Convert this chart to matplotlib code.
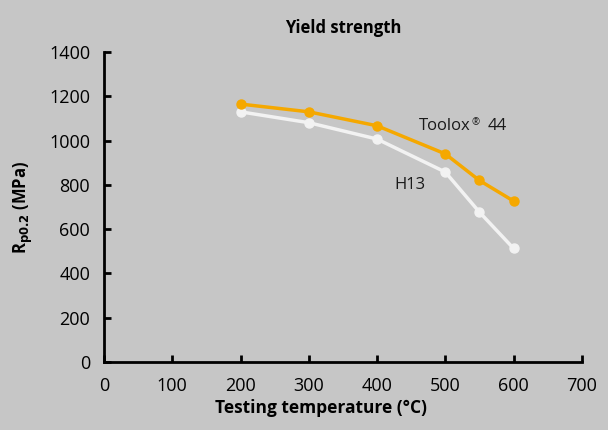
import matplotlib.pyplot as plt

temps = [200, 300, 400, 500, 550, 600]
toolox = [1165, 1130, 1067, 940, 820, 727]
h13 = [1130, 1081, 1007, 858, 677, 513]

bg = '#c6c6c6'
plt.rcParams['font.family'] = ['Open Sans', 'DejaVu Sans']

fig = plt.figure(figsize=(6.08, 4.30), dpi=100, facecolor=bg)
ax = fig.add_axes([0.171, 0.158, 0.786, 0.721], facecolor=bg)

ax.plot(temps, h13, color='#f2f2f2', lw=2.5, marker='o', ms=6.5)
ax.plot(temps, toolox, color='#f5a800', lw=2.5, marker='o', ms=6.5)

# label: Toolox® 44 with a small raised ®
t1 = ax.text(462, 1065, 'Toolox', fontsize=12, va='center', ha='left', color='#1a1a1a')
t2 = ax.annotate('®', xy=(1, 0.75), xycoords=t1, xytext=(0.5, 0), textcoords='offset points',
                 fontsize=7, va='center', ha='left', color='#1a1a1a')
ax.annotate('44', xy=(1, 0.5), xycoords=t1, xytext=(12, 0), textcoords='offset points',
            fontsize=12, va='center', ha='left', color='#1a1a1a')
ax.text(425, 800, 'H13', fontsize=12, va='center', ha='left', color='#1a1a1a')

ax.set_xlim(0, 700)
ax.set_ylim(0, 1400)
ax.set_xticks(range(0, 701, 100))
ax.set_yticks(range(0, 1401, 200))
for s in ['top', 'right']:
    ax.spines[s].set_visible(False)
for s in ['left', 'bottom']:
    ax.spines[s].set_linewidth(2)
ax.tick_params(direction='in', length=5, width=2, labelsize=13, pad=11, colors='black')
ax.tick_params(axis='y', pad=10)

ax.set_title('Yield strength', fontsize=12, fontweight='bold', pad=14)
ax.set_xlabel('Testing temperature (°C)', fontsize=12.5, fontweight='bold', labelpad=7)
ax.xaxis.set_label_coords(0.454, -0.12)
ax.set_ylabel('R$_{\\mathbf{p0.2}}$ (MPa)', fontsize=12, fontweight='bold', labelpad=10)

fig.savefig('out.png', dpi=100, facecolor=bg)
